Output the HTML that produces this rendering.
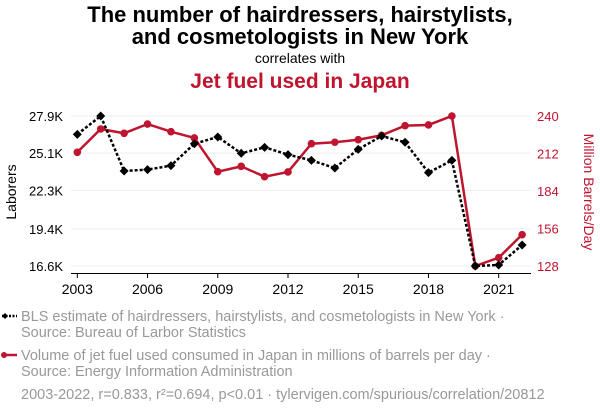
<!DOCTYPE html>
<html><head><meta charset="utf-8">
<style>
body{margin:0;background:#fff;}
svg{display:block;font-family:"Liberation Sans",sans-serif;}
</style></head>
<body>
<svg id="chart" width="600" height="414" viewBox="0 0 600 414">
<text x="300" y="22" text-anchor="middle" font-size="22" font-weight="bold" fill="#000">The number of hairdressers, hairstylists,</text>
<text x="300" y="44" text-anchor="middle" font-size="22" font-weight="bold" fill="#000">and cosmetologists in New York</text>
<text x="300" y="63" text-anchor="middle" font-size="14" fill="#000">correlates with</text>
<text x="300" y="88" text-anchor="middle" font-size="21" font-weight="bold" fill="#c0152f">Jet fuel used in Japan</text>
<g id="grid"></g>
<g id="axes"></g>
<g id="series"></g>
<text transform="translate(16,192) rotate(-90)" text-anchor="middle" font-size="14" fill="#000">Laborers</text>
<text transform="translate(584,192) rotate(90)" text-anchor="middle" font-size="14" fill="#c0152f">Million Barrels/Day</text>
<g>
<line x1="2" y1="316" x2="17" y2="316" stroke="#000" stroke-width="2.5" stroke-dasharray="2,1.5"/>
<path d="M2 316 l3 -3 l3 3 l-3 3z" fill="#000"/>
<text x="21" y="321" font-size="14.5" fill="#999">BLS estimate of hairdressers, hairstylists, and cosmetologists in New York ·</text>
<text x="21" y="337" font-size="14.5" fill="#999">Source: Bureau of Larbor Statistics</text>
</g>
<g>
<line x1="4" y1="355" x2="17" y2="355" stroke="#c0152f" stroke-width="2.5"/>
<circle cx="4" cy="355" r="3" fill="#c0152f"/>
<text x="21" y="360" font-size="14.5" fill="#999">Volume of jet fuel used consumed in Japan in millions of barrels per day ·</text>
<text x="21" y="376" font-size="14.5" fill="#999">Source: Energy Information Administration</text>
</g>
<text x="21" y="399" font-size="14.5" fill="#999">2003-2022, r=0.833, r²=0.694, p&lt;0.01 · tylervigen.com/spurious/correlation/20812</text>
</svg>
<script>
const years=[2003,2004,2005,2006,2007,2008,2009,2010,2011,2012,2013,2014,2015,2016,2017,2018,2019,2020,2021,2022];
const laborers=[26520,27900,23760,23860,24160,25810,26320,25090,25540,24990,24560,23980,25390,26390,25920,23630,24560,16600,16680,18180];
const jetFuel=[212.9,230.3,227.1,234,228.3,223.6,198.4,202.4,194.7,198.2,219.3,220.4,222.3,225.6,232.8,233.3,240,128,134.2,151.4];
const leftTicks=[16600,19400,22300,25100,27900];
const leftTickLabels=["16.6K","19.4K","22.3K","25.1K","27.9K"];
const rightTicks=[128,156,184,212,240];
const xTicks=[2003,2006,2009,2012,2015,2018,2021];

const NS="http://www.w3.org/2000/svg";
const xS=y=>77.3+(y-2003)*(498.7-77.3)/18;
const yL=v=>266-(v-16600)/(27900-16600)*150;
const yR=v=>266-(v-128)/(240-128)*150;
function mk(tag,attrs,parent){const e=document.createElementNS(NS,tag);for(const k in attrs)e.setAttribute(k,attrs[k]);parent.appendChild(e);return e;}
const grid=document.getElementById('grid'),axes=document.getElementById('axes'),series=document.getElementById('series');

leftTicks.forEach((t,i)=>{
  const y=yL(t);
  const g=mk('line',{x1:71,x2:531,y1:y,y2:y,stroke:'#eee','stroke-width':1},grid);
  
  
  const l=mk('text',{x:63,y:y+5,'text-anchor':'end','font-size':13,fill:'#000'},axes);
  l.textContent=leftTickLabels[i];
  
  
});
rightTicks.forEach(t=>{
  const y=yR(t);
  const l=mk('text',{x:537,y:y+5,'font-size':13,fill:'#c0152f'},axes);
  l.textContent=t;
  
  
});
const xa=mk('line',{x1:71,x2:531,y1:273.5,y2:273.5,stroke:'#000'},axes);


xTicks.forEach(t=>{
  const x=xS(t);
  mk('line',{x1:x,x2:x,y1:273.5,y2:278,stroke:'#000'},axes);
  const l=mk('text',{x:x,y:294,'text-anchor':'middle','font-size':14,fill:'#000'},axes);
  l.textContent=t;
  
  
});
const rp=mk('polyline',{points:years.map((y,i)=>xS(y)+','+yR(jetFuel[i])).join(' '),fill:'none',stroke:'#c0152f','stroke-width':2.5},series);


years.forEach((y,i)=>{
  const c=mk('circle',{cx:xS(y),cy:yR(jetFuel[i]),r:3.8,fill:'#c0152f'},series);
  
  
});
const bp=mk('polyline',{points:years.map((y,i)=>xS(y)+','+yL(laborers[i])).join(' '),fill:'none',stroke:'#000','stroke-width':2.5,'stroke-dasharray':'3,2'},series);


years.forEach((y,i)=>{
  const x=xS(y),yy=yL(laborers[i]);
  const d=mk('path',{d:`M${x-4.5} ${yy} L${x} ${yy-4.5} L${x+4.5} ${yy} L${x} ${yy+4.5}Z`,fill:'#000'},series);
  
  
});
</script>
</body></html>
